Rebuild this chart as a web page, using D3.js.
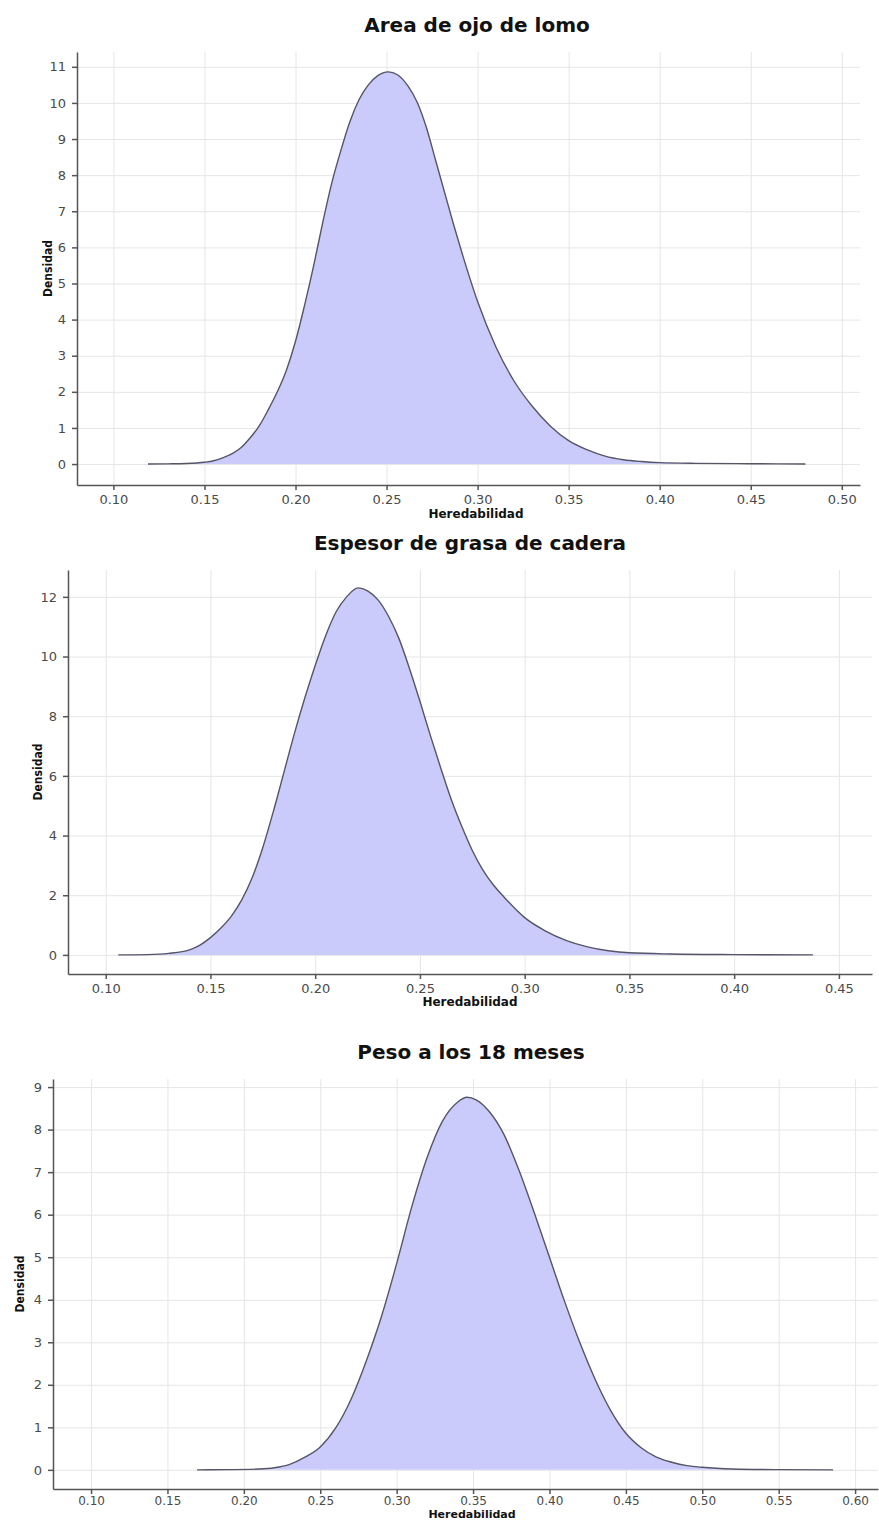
<!DOCTYPE html>
<html>
<head>
<meta charset="utf-8">
<script src="https://cdn.jsdelivr.net/npm/d3@7"></script>
<style>
  body { margin: 0; background: #fff; }
  .tick text { font-family: 'DejaVu Sans', sans-serif; font-size: 13px; fill: #4a4a4a; }
  .grid line { stroke: #e6e6e6; stroke-width: 1; }
  .grid .domain { display: none; }
  .axis .domain, .axis line { stroke: #555; stroke-width: 1.5; }
</style>
</head>
<body>
<div id="chart"></div>
<script>
// Titles and axis labels
let titles = ['Area de ojo de lomo', 'Espesor de grasa de cadera', 'Peso a los 18 meses']
let xLabel = 'Heredabilidad'
let yLabel = 'Densidad'

// Tick values for each panel
let xTicks1 = [0.10, 0.15, 0.20, 0.25, 0.30, 0.35, 0.40, 0.45, 0.50]
let yTicks1 = [0, 1, 2, 3, 4, 5, 6, 7, 8, 9, 10, 11]
let xTicks2 = [0.10, 0.15, 0.20, 0.25, 0.30, 0.35, 0.40, 0.45]
let yTicks2 = [0, 2, 4, 6, 8, 10, 12]
let xTicks3 = [0.10, 0.15, 0.20, 0.25, 0.30, 0.35, 0.40, 0.45, 0.50, 0.55, 0.60]
let yTicks3 = [0, 1, 2, 3, 4, 5, 6, 7, 8, 9]

// Density curves (heredabilidad, densidad)
let h1 = [0.119, 0.13, 0.14, 0.15, 0.155, 0.16, 0.165, 0.17, 0.175, 0.18, 0.185, 0.19, 0.195, 0.20, 0.205, 0.21, 0.215, 0.22, 0.225, 0.23, 0.235, 0.24, 0.245, 0.251, 0.256, 0.262, 0.267, 0.272, 0.277, 0.282, 0.287, 0.292, 0.30, 0.31, 0.32, 0.33, 0.34, 0.35, 0.36, 0.37, 0.38, 0.39, 0.40, 0.42, 0.45, 0.48]
let d1 = [0.0, 0.005, 0.015, 0.05, 0.09, 0.17, 0.28, 0.45, 0.72, 1.05, 1.5, 2.0, 2.6, 3.4, 4.4, 5.5, 6.7, 7.8, 8.7, 9.5, 10.1, 10.5, 10.75, 10.86, 10.78, 10.45, 10.0, 9.3, 8.4, 7.5, 6.6, 5.75, 4.5, 3.25, 2.3, 1.6, 1.05, 0.65, 0.4, 0.22, 0.12, 0.07, 0.04, 0.02, 0.01, 0.0]

let h2 = [0.106, 0.12, 0.13, 0.14, 0.145, 0.15, 0.155, 0.16, 0.165, 0.17, 0.175, 0.18, 0.185, 0.19, 0.195, 0.20, 0.205, 0.21, 0.215, 0.2205, 0.225, 0.23, 0.235, 0.24, 0.245, 0.25, 0.255, 0.26, 0.265, 0.27, 0.275, 0.28, 0.285, 0.29, 0.30, 0.31, 0.32, 0.33, 0.34, 0.35, 0.37, 0.40, 0.4376]
let d2 = [0.0, 0.01, 0.05, 0.17, 0.33, 0.58, 0.9, 1.3, 1.85, 2.6, 3.6, 4.8, 6.1, 7.4, 8.6, 9.7, 10.7, 11.5, 12.0, 12.3, 12.2, 11.9, 11.35, 10.6, 9.6, 8.5, 7.35, 6.25, 5.2, 4.3, 3.5, 2.85, 2.35, 1.95, 1.25, 0.8, 0.48, 0.27, 0.14, 0.07, 0.03, 0.01, 0.0]

let h3 = [0.1694, 0.19, 0.21, 0.22, 0.23, 0.24, 0.25, 0.26, 0.27, 0.28, 0.29, 0.30, 0.31, 0.32, 0.33, 0.34, 0.346, 0.352, 0.36, 0.37, 0.38, 0.39, 0.40, 0.41, 0.42, 0.43, 0.44, 0.45, 0.46, 0.47, 0.48, 0.49, 0.50, 0.52, 0.55, 0.5856]
let d3s = [0.0, 0.005, 0.02, 0.05, 0.13, 0.3, 0.54, 0.98, 1.65, 2.55, 3.6, 4.85, 6.2, 7.35, 8.2, 8.65, 8.76, 8.7, 8.45, 7.9, 7.05, 6.05, 5.0, 3.95, 2.98, 2.12, 1.4, 0.86, 0.52, 0.3, 0.18, 0.1, 0.06, 0.02, 0.005, 0.0]

// Panel layout (pixels) and scale domains
let panels = [
  { title: titles[0], h: h1, d: d1, xTicks: xTicks1, yTicks: yTicks1, xDomain: [0.08, 0.51], yDomain: [-0.58, 11.41],
    left: 77, right: 860, top: 52, bottom: 485, titleX: 477, titleY: 32, labelX: 476, labelY: 518, yLabelX: 52, pad: 5, tickFont: 13, labelFont: 12 },
  { title: titles[1], h: h2, d: d2, xTicks: xTicks2, yTicks: yTicks2, xDomain: [0.082, 0.4658], yDomain: [-0.64, 12.9],
    left: 68, right: 872, top: 570, bottom: 974, titleX: 470, titleY: 550, labelX: 470, labelY: 1006, yLabelX: 42, pad: 5, tickFont: 13, labelFont: 12 },
  { title: titles[2], h: h3, d: d3s, xTicks: xTicks3, yTicks: yTicks3, xDomain: [0.0751, 0.615], yDomain: [-0.45, 9.19],
    left: 53, right: 878, top: 1079, bottom: 1489, titleX: 471, titleY: 1059, labelX: 472, labelY: 1518, yLabelX: 24, pad: 2, tickFont: 12, labelFont: 11 }
]

let svg = d3.select('#chart')
  .append('svg')
  .attr('width', 879)
  .attr('height', 1521)

panels.forEach(p => {
  let xPositionScale = d3.scaleLinear().domain(p.xDomain).range([p.left, p.right])
  let yPositionScale = d3.scaleLinear().domain(p.yDomain).range([p.bottom, p.top])
  let points = p.h.map((v, i) => ({ h: v, d: p.d[i] }))

  // grid lines
  svg.append('g')
    .attr('class', 'grid')
    .attr('transform', 'translate(0,' + p.bottom + ')')
    .call(d3.axisBottom(xPositionScale).tickValues(p.xTicks).tickSize(-(p.bottom - p.top)).tickFormat(''))
  svg.append('g')
    .attr('class', 'grid')
    .attr('transform', 'translate(' + p.left + ',0)')
    .call(d3.axisLeft(yPositionScale).tickValues(p.yTicks).tickSize(-(p.right - p.left)).tickFormat(''))

  // density area + outline
  let area = d3.area()
    .x(d => xPositionScale(d.h))
    .y0(yPositionScale(0))
    .y1(d => yPositionScale(d.d))
    .curve(d3.curveMonotoneX)
  let line = d3.line()
    .x(d => xPositionScale(d.h))
    .y(d => yPositionScale(d.d))
    .curve(d3.curveMonotoneX)

  svg.append('path')
    .datum(points)
    .attr('d', area)
    .attr('fill', '#cbcbfb')
  svg.append('path')
    .datum(points)
    .attr('d', line)
    .attr('fill', 'none')
    .attr('stroke', '#555566')
    .attr('stroke-width', 1.4)

  // axes
  let xAxis = d3.axisBottom(xPositionScale).tickValues(p.xTicks).tickSizeInner(5).tickSizeOuter(0).tickPadding(p.pad).tickFormat(d3.format('.2f'))
  svg.append('g')
    .attr('class', 'axis x-axis')
    .attr('transform', 'translate(0,' + p.bottom + ')')
    .call(xAxis)
    .selectAll('text')
    .style('font-size', p.tickFont + 'px')
  let yAxis = d3.axisLeft(yPositionScale).tickValues(p.yTicks).tickSizeInner(5).tickSizeOuter(0).tickPadding(6)
  svg.append('g')
    .attr('class', 'axis y-axis')
    .attr('transform', 'translate(' + p.left + ',0)')
    .call(yAxis)

  // title
  svg.append('text')
    .text(p.title)
    .attr('x', p.titleX)
    .attr('y', p.titleY)
    .attr('text-anchor', 'middle')
    .attr('font-family', 'DejaVu Sans, sans-serif')
    .attr('font-size', 20)
    .attr('font-weight', 'bold')
    .attr('fill', '#111')

  // axis labels
  svg.append('text')
    .text(xLabel)
    .attr('x', p.labelX)
    .attr('y', p.labelY)
    .attr('text-anchor', 'middle')
    .attr('font-family', 'DejaVu Sans, sans-serif')
    .attr('font-size', p.labelFont)
    .attr('font-weight', 'bold')
    .attr('fill', '#111')

  svg.append('text')
    .text(yLabel)
    .attr('transform', 'translate(' + p.yLabelX + ',' + (p.top + p.bottom) / 2 + ') rotate(-90)')
    .attr('text-anchor', 'middle')
    .attr('font-family', 'DejaVu Sans Condensed, DejaVu Sans, sans-serif')
    .attr('font-size', 12)
    .attr('font-weight', 'bold')
    .attr('fill', '#111')
})
</script>
</body>
</html>
